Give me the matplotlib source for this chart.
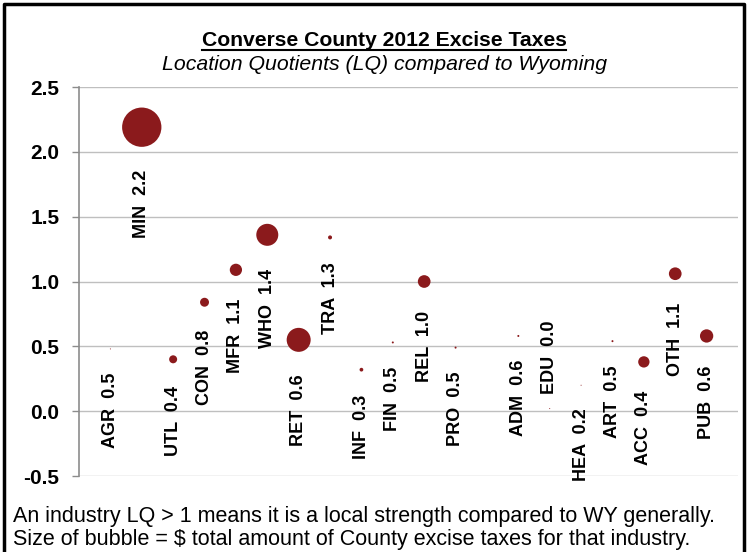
import numpy as np
import matplotlib
matplotlib.use('Agg')
import matplotlib.pyplot as plt
from matplotlib.lines import Line2D

# industry codes, position along the x axis, location quotient, excise taxes ($ thousands, estimated)
industries = ['AGR', 'MIN', 'UTL', 'CON', 'MFR', 'WHO', 'RET', 'TRA', 'INF', 'FIN',
              'REL', 'PRO', 'ADM', 'EDU', 'HEA', 'ART', 'ACC', 'OTH', 'PUB']
industry_pos = [1, 2, 3, 4, 5, 6, 7, 8, 9, 10, 11, 12, 14, 15, 16, 17, 18, 19, 20]
lq = [0.48, 2.19, 0.40, 0.84, 1.09, 1.36, 0.55, 1.34, 0.32, 0.53,
      1.00, 0.49, 0.58, 0.02, 0.20, 0.54, 0.38, 1.06, 0.58]
excise_tax = [1, 1545, 64, 80, 150, 484, 576, 16, 14, 4,
              161, 4, 4, 1, 1, 4, 128, 161, 177]
# EDU label sits above its point in the original, all others below
label_above = ['EDU']

TITLE = 'Converse County 2012 Excise Taxes'
SUBTITLE = 'Location Quotients (LQ) compared to Wyoming'
NOTE = ('An industry LQ > 1 means it is a local strength compared to WY generally.\n'
        'Size of bubble = $ total amount of County excise taxes for that industry.')

bubble_color = '#8B1A1C'
grid_color = '#BFBFBF'

plt.rcParams['font.family'] = ['Liberation Sans', 'DejaVu Sans']

W, H = 747, 552
fig = plt.figure(figsize=(W / 100, H / 100), dpi=100)
ax = fig.add_axes([79 / W, 1 - 476 / H, (738 - 79) / W, (476 - 87) / H])

sizes = np.array(excise_tax) * 0.5184
ax.scatter(industry_pos, lq, s=sizes, color=bubble_color, edgecolors='none', zorder=3)

for code, xpos, val, s in zip(industries, industry_pos, lq, sizes):
    r_pt = np.sqrt(s) / 2
    if code in label_above:
        off, va = r_pt + 10, 'bottom'
    else:
        off, va = -(r_pt + 16.5), 'top'
    ax.annotate(f'{code}  {val:.1f}', (xpos, val), xytext=(0, off), textcoords='offset points',
                rotation=90, ha='center', va=va, fontsize=13, fontweight='bold', color='black')

ax.set_xlim(0, 21)
ax.set_ylim(-0.5, 2.5)
ax.set_yticks(np.arange(-0.5, 2.51, 0.5))
ax.set_yticklabels([f'{v:.1f}' for v in np.arange(-0.5, 2.51, 0.5)])
ax.set_xticks([])
ax.grid(axis='y', color=grid_color, linewidth=1)
ax.set_axisbelow(True)
for side in ['top', 'right', 'bottom']:
    ax.spines[side].set_visible(False)
ax.spines['left'].set_color('#8C8C8C')
ax.spines['left'].set_linewidth(1.2)
ax.tick_params(axis='y', length=5, width=1, color='#8C8C8C', pad=9, labelsize=15)
for lbl in ax.get_yticklabels():
    lbl.set_fontweight('bold')

t = fig.text(384 / W, 1 - 40 / H, TITLE, ha='center', va='center', fontsize=15.2, fontweight='bold')
fig.text(385 / W, 1 - 64 / H, SUBTITLE, ha='center', va='center', fontsize=15.3, style='italic')
fig.text(13 / W, 1 - 528 / H, NOTE, ha='left', va='center', fontsize=15.5, linespacing=1.12)

# underline the title
fig.canvas.draw()
bb = t.get_window_extent()
uy = 1 - 50 / H
fig.add_artist(Line2D([bb.x0 / W, bb.x1 / W], [uy, uy], color='black', linewidth=1.5))

# black frame (bottom edge cropped away)
fx0, fx1, fy = 3.5 / W, 743.5 / W, 1 - 3.5 / H
fig.add_artist(Line2D([fx0, fx0, fx1, fx1], [0, fy, fy, 0], color='black', linewidth=2.5))

fig.savefig('out.png', dpi=100)
